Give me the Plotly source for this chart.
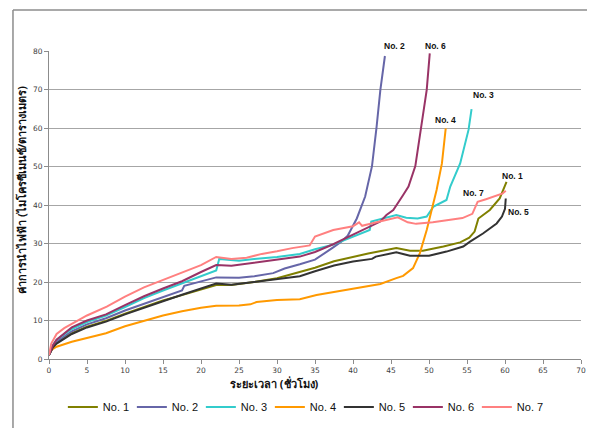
import plotly.graph_objects as go

# ---------------- data ----------------
names = ["No. 1", "No. 2", "No. 3", "No. 4", "No. 5", "No. 6", "No. 7"]
colors = ["#808000", "#6666A8", "#33CCCC", "#FF9900", "#333333", "#993366", "#FF8080"]

x1 = [0, 0.5, 1, 2, 3, 5, 7.5, 10, 12.5, 15, 17.5, 20, 22, 24, 27, 30, 33, 35, 37.5, 40, 42, 45.7, 47.5, 49.2, 51.9, 54.1, 55.3, 56, 56.5, 58, 59.3, 60.2]
y1 = [1, 3, 4.2, 5.5, 6.7, 8.4, 9.9, 11.8, 13.5, 15.2, 16.6, 18.1, 19.2, 19.2, 20, 21, 22.6, 23.7, 25.4, 26.5, 27.4, 28.8, 28.1, 28.1, 29.2, 30.3, 31.5, 33.1, 36.5, 38.7, 41.7, 46]

x2 = [0, 0.5, 1, 2, 3, 5, 7.5, 10, 12.5, 15, 17.5, 17.8, 20, 22, 25, 27, 29.5, 31, 33, 35, 37.4, 38.5, 39.3, 40.5, 41.6, 42.5, 43.1, 43.6, 44.2]
y2 = [1, 3.2, 4.5, 5.8, 7.2, 9, 10.6, 12.6, 14.4, 16.2, 17.8, 19, 20.2, 21.2, 21.1, 21.5, 22.3, 23.5, 24.6, 25.8, 29, 30.5, 32, 36.5, 42.2, 50.1, 60.2, 69.9, 78.7]

x3 = [0, 0.5, 1, 2, 3, 5, 7.5, 10, 12.5, 15, 17.5, 20, 22, 22.4, 25, 27, 30, 33, 35, 37.4, 40, 42.2, 42.4, 44, 45.7, 47, 48.5, 49.7, 50.6, 52.3, 52.8, 54.1, 55.2, 55.6]
y3 = [1, 3.5, 5, 6.5, 7.8, 9.6, 11.3, 13.5, 15.8, 17.8, 19.6, 21.5, 23, 26, 25.5, 26, 26.5, 27.3, 28.5, 29.7, 31.8, 33.5, 35.7, 36.5, 37.4, 36.7, 36.5, 37, 39.6, 41.3, 44.8, 50.8, 59.5, 64.9]

x4 = [0, 1, 3, 5, 7.5, 10, 12.5, 15, 17.5, 20, 22, 25, 26.5, 27.3, 30, 33, 35.2, 37.9, 40, 41.8, 43.6, 45.7, 46.6, 47.9, 48.8, 49.7, 50.4, 51, 51.7, 52.2]
y4 = [2, 3.2, 4.5, 5.5, 6.7, 8.5, 10, 11.3, 12.4, 13.3, 13.8, 13.9, 14.2, 14.8, 15.3, 15.5, 16.6, 17.5, 18.2, 18.8, 19.5, 21, 21.6, 23.6, 27.5, 33.5, 38.7, 43.9, 50.8, 59.9]

x5 = [0, 0.5, 1, 2, 3, 5, 7.5, 10, 12.5, 15, 17.5, 20, 22, 24, 27, 30, 33, 35, 37.5, 40, 42.5, 43, 45.7, 47.5, 50, 52.3, 54.5, 55.4, 57.1, 58.9, 59.6, 60, 60.1]
y5 = [1, 3, 4, 5.3, 6.5, 8.2, 9.7, 11.6, 13.4, 15, 16.7, 18.2, 19.6, 19.3, 20, 20.8, 21.5, 22.8, 24.3, 25.3, 26, 26.6, 27.7, 26.8, 26.8, 27.9, 29.2, 30.5, 32.6, 35.2, 37, 39, 41.7]

x6 = [0, 0.5, 1, 2, 3, 5, 7.5, 10, 12.5, 15, 17.5, 20, 22, 24, 27, 30, 33, 35, 37.4, 40, 41.8, 43.6, 44.4, 45.3, 46.6, 47.3, 48.2, 49, 49.7, 50.1]
y6 = [1, 3.5, 5, 6.7, 8.2, 10, 11.6, 14, 16.3, 18.3, 20.2, 22.6, 24.4, 24.2, 25, 25.8, 26.6, 27.8, 29.8, 32.3, 33.9, 35.7, 37.4, 38.7, 42.6, 44.8, 50.1, 60.2, 69.9, 79.4]

x7 = [0, 0.3, 1, 2, 4, 5, 7.6, 10, 12.5, 15, 17.5, 20, 22, 24, 26, 28, 30, 32, 34.3, 35, 37.4, 40, 40.8, 41.2, 43.5, 45.9, 47.2, 48.3, 50.5, 54.4, 55.7, 56.4, 57.5, 59.7, 60.1]
y7 = [1, 4, 6.5, 8, 10.2, 11.3, 13.6, 16.2, 18.6, 20.6, 22.4, 24.4, 26.5, 26, 26.3, 27.3, 28, 28.8, 29.5, 31.8, 33.5, 34.5, 35.5, 34.6, 35.7, 36.8, 35.5, 35.1, 35.5, 36.6, 37.7, 40.8, 41.5, 43, 43.7]

xs = [x1, x2, x3, x4, x5, x6, x7]
ys = [y1, y2, y3, y4, y5, y6, y7]

# end labels (x in data units, y in data units)
label_names = ["No. 2", "No. 6", "No. 3", "No. 4", "No. 1", "No. 7", "No. 5"]
label_x = [45.5, 50.9, 57.2, 52.2, 61.0, 55.9, 61.8]
label_y = [81.3, 81.3, 68.6, 62.1, 47.5, 43.1, 38.2]

x_title = "ระยะเวลา (ชั่วโมง)"
y_title = "ค่าการนำไฟฟ้า (ไมโครซีเมนซ์/ตารางเมตร)"

Y_MAX = 80

# ---------------- figure ----------------
fig = go.Figure()
for n, c, xv, yv in zip(names, colors, xs, ys):
    fig.add_trace(go.Scatter(x=xv, y=yv, mode="lines", name=n,
                             line=dict(color=c, width=2)))

for t, ax_, ay_ in zip(label_names, label_x, label_y):
    # y given in paper fraction so labels above the top of the range are still drawn
    fig.add_annotation(x=ax_, y=ay_ / Y_MAX, xref="x", yref="paper", text="<b>" + t + "</b>",
                       showarrow=False,
                       font=dict(family="Liberation Sans, Arial, sans-serif", size=8.5, color="#111111"),
                       xanchor="center", yanchor="middle")

fig.add_annotation(xref="paper", yref="paper", x=0.423, y=-0.081, text="<b>" + x_title + "</b>",
                   showarrow=False, xanchor="center", yanchor="middle",
                   font=dict(family="Noto Sans, DejaVu Sans, sans-serif", size=11, color="#111111"))
fig.add_annotation(xref="paper", yref="paper", x=-0.0508, y=0.549, text="<b>" + y_title + "</b>",
                   showarrow=False, xanchor="center", yanchor="middle", textangle=-90,
                   font=dict(family="Noto Sans, DejaVu Sans, sans-serif", size=11, color="#111111"))

# outer chart border (top and left edges visible in the frame)
fig.add_shape(type="line", xref="paper", yref="paper", x0=-0.0677, y0=1.133, x1=1.1, y1=1.133,
              line=dict(color="#8C8C8C", width=1.5), layer="above")
fig.add_shape(type="line", xref="paper", yref="paper", x0=-0.0677, y0=1.133, x1=-0.0677, y1=-0.4,
              line=dict(color="#8C8C8C", width=1.5), layer="above")

tickfont = dict(family="DejaVu Sans, Verdana, sans-serif", size=7.5, color="#404040")
fig.update_xaxes(range=[0, 70], dtick=5, tick0=0, showgrid=False, zeroline=False,
                 showline=True, linecolor="#8C8C8C", linewidth=1,
                 ticks="outside", ticklen=4, tickcolor="#8C8C8C", tickfont=tickfont)
fig.update_yaxes(range=[0, Y_MAX], dtick=10, tick0=0, showgrid=True, gridcolor="#A6A6A6", gridwidth=1,
                 zeroline=False, showline=True, linecolor="#8C8C8C", linewidth=1,
                 ticks="outside", ticklen=4, tickcolor="#8C8C8C", tickfont=tickfont)

# the page body adds an 8px offset, so the figure is drawn 8px smaller and margins shifted
fig.update_layout(
    width=587, height=420,
    margin=dict(l=41, r=14, t=43, b=69, autoexpand=False),
    paper_bgcolor="white", plot_bgcolor="white",
    showlegend=True,
    legend=dict(orientation="h", x=0.48, xanchor="center", y=-0.156, yanchor="middle",
                font=dict(family="Liberation Sans, Arial, sans-serif", size=11, color="#111111"),
                entrywidth=24, entrywidthmode="pixels", itemwidth=30,
                bgcolor="rgba(0,0,0,0)"),
)

fig.write_html("out.html")
